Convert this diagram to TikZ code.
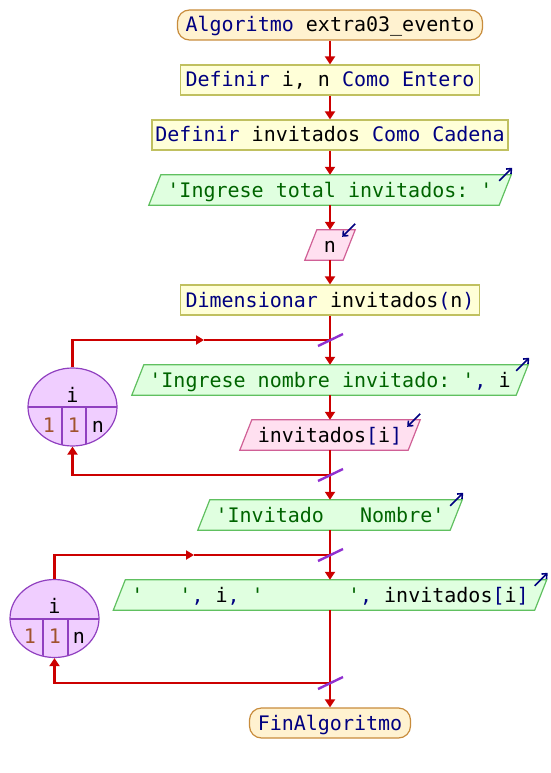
\documentclass[tikz,border=0pt]{standalone}
\usepackage{fontspec}
\newfontfamily\pmono{DejaVu Sans Mono}
\usetikzlibrary{shapes.geometric,arrows.meta,calc}
\definecolor{kwc}{RGB}{0,0,128}
\definecolor{strc}{RGB}{0,100,0}
\definecolor{numc}{RGB}{160,82,45}
\definecolor{flowc}{RGB}{204,0,0}
\definecolor{slashc}{RGB}{144,48,208}
\definecolor{termfill}{RGB}{255,242,208}
\definecolor{termdraw}{RGB}{200,140,60}
\definecolor{procfill}{RGB}{255,255,216}
\definecolor{procdraw}{RGB}{192,192,96}
\definecolor{outfill}{RGB}{224,255,224}
\definecolor{outdraw}{RGB}{96,192,96}
\definecolor{infill}{RGB}{255,224,240}
\definecolor{indraw}{RGB}{208,96,150}
\definecolor{loopfill}{RGB}{240,206,255}
\definecolor{loopdraw}{RGB}{144,64,192}
\definecolor{iconc}{RGB}{0,0,128}
\newcommand\KW[1]{\textcolor{kwc}{#1}}
\newcommand\ST[1]{\textcolor{strc}{#1}}
\newcommand\NU[1]{\textcolor{numc}{#1}}
\pgfdeclarelayer{bg}\pgfsetlayers{bg,main}
\newcommand\pgshape[2]{%
  \begin{pgfonlayer}{bg}
  \path[#1] ([xshift=-6pt]#2.south west) -- ([xshift=-6pt]#2.south east)
     -- ([xshift=6pt]#2.north east) -- ([xshift=6pt]#2.north west) -- cycle;
  \end{pgfonlayer}}
\tikzset{
  txt/.style={inner sep=0pt, text height=16pt, text depth=2pt, minimum height=30pt},
  term/.style={txt, draw=termdraw, fill=termfill, line width=1.2pt, rounded corners=12pt},
  proc/.style={txt, draw=procdraw, fill=procfill, line width=1.2pt},
  pgram/.style={txt},
  outshape/.style={draw=outdraw, fill=outfill, line width=1.2pt},
  inshape/.style={draw=indraw, fill=infill, line width=1.2pt},
  flowline/.style={draw=flowc, line width=2.4pt},
  flowarrow/.style={flowline, -{Triangle[length=8pt,width=10pt]}},
  midarrow/.style={flowline, -{Triangle[length=8pt,width=9pt]}},
  slashline/.style={draw=slashc, line width=2.4pt},
  icon/.style={draw=iconc, line width=1.6pt, -{Straight Barb[length=4pt,width=7pt]}},
  loopnode/.style={ellipse, draw=loopdraw, fill=loopfill, line width=1.2pt, inner sep=0pt, minimum width=89pt, minimum height=78pt},
  looplab/.style={anchor=base, inner sep=0pt},
  divider/.style={draw=loopdraw, line width=1.2pt}
}
\begin{document}
\begin{tikzpicture}[x=1pt,y=-1pt,font=\pmono\fontsize{20}{24}\selectfont\frenchspacing]
\begin{pgfonlayer}{bg}
\fill[white] (0,0) rectangle (550,773);
\end{pgfonlayer}
\useasboundingbox (0,0) rectangle (550,773);

% nodes
\node[term, minimum width=305pt] (start) at (330,25) {\KW{Algoritmo} extra03\_evento};
\node[proc, minimum width=299pt] (b1) at (330,80) {\KW{Definir} i, n \KW{Como Entero}};
\node[proc, minimum width=356pt] (b2) at (330,135) {\KW{Definir} invitados \KW{Como Cadena}};
\node[pgram, minimum width=350pt] (o1) at (330,190) {\ST{'Ingrese total invitados: '}};
\pgshape{outshape}{o1}
\node[pgram, minimum width=38pt] (i1) at (330,245) {n};
\pgshape{inshape}{i1}
\node[proc, minimum width=299pt] (dim) at (330,300) {\KW{Dimensionar} invitados\KW{(}n\KW{)}};
\node[pgram, minimum width=384pt] (o2) at (330,380) {\ST{'Ingrese nombre invitado: '}\KW{,} i};
\pgshape{outshape}{o2}
\node[pgram, minimum width=168pt] (i2) at (330,435) {invitados\KW{[}i\KW{]}};
\pgshape{inshape}{i2}
\node[pgram, minimum width=252pt] (o3) at (330,515) {\ST{'Invitado\ \ \ Nombre'}};
\pgshape{outshape}{o3}
\node[pgram, minimum width=421pt] (o4) at (330,595) {\ST{'\ \ \ '}\KW{,} i\KW{,} \ST{'\ \ \ \ \ \ \ '}\KW{,} invitados\KW{[}i\KW{]}};
\pgshape{outshape}{o4}
\node[term, minimum width=161pt] (fin) at (330,723) {\KW{FinAlgoritmo}};

% icons
\draw[icon] ([xshift=-6pt,yshift=-6pt]o1.north east) -- ([xshift=7pt,yshift=7pt]o1.north east);
\draw[icon] ([xshift=-6pt,yshift=-6pt]o2.north east) -- ([xshift=7pt,yshift=7pt]o2.north east);
\draw[icon] ([xshift=-6pt,yshift=-6pt]o3.north east) -- ([xshift=7pt,yshift=7pt]o3.north east);
\draw[icon] ([xshift=-6pt,yshift=-6pt]o4.north east) -- ([xshift=7pt,yshift=7pt]o4.north east);
\draw[icon] ([xshift=6pt,yshift=6pt]i1.north east) -- ([xshift=-7pt,yshift=-7pt]i1.north east);
\draw[icon] ([xshift=6pt,yshift=6pt]i2.north east) -- ([xshift=-7pt,yshift=-7pt]i2.north east);

% loop 1
\node[loopnode] (l1) at (72.5,407) {};
\begin{scope}
\clip (72.5,407) ellipse [x radius=44.5pt, y radius=39pt];
\draw[divider] (20,407) -- (125,407) (62,407) -- (62,455) (86,407) -- (86,455);
\end{scope}
\node[looplab] (l1v) at (72.5,402) {i};
\node[looplab] (l1a) at (49,432) {\NU{1}};
\node[looplab] (l1b) at (74,432) {\NU{1}};
\node[looplab] (l1c) at (98,432) {n};

% loop 2
\node[loopnode] (l2) at (54.5,618.5) {};
\begin{scope}
\clip (54.5,618.5) ellipse [x radius=44.5pt, y radius=38.5pt];
\draw[divider] (5,619) -- (105,619) (43,619) -- (43,665) (68,619) -- (68,665);
\end{scope}
\node[looplab] (l2v) at (54.5,613) {i};
\node[looplab] (l2a) at (30,643) {\NU{1}};
\node[looplab] (l2b) at (55,643) {\NU{1}};
\node[looplab] (l2c) at (79,643) {n};

% junctions
\coordinate (j1) at (330,340);
\coordinate (j2) at (330,475);
\coordinate (j3) at (330,555);
\coordinate (j4) at (330,683);
\coordinate (m1) at (204,340);
\coordinate (m2) at (194,555);

% connectors
\draw[flowarrow] (start.south) -- (b1.north);
\draw[flowarrow] (b1.south) -- (b2.north);
\draw[flowarrow] (b2.south) -- (o1.north);
\draw[flowarrow] (o1.south) -- (i1.north);
\draw[flowarrow] (i1.south) -- (dim.north);
\draw[flowarrow] (dim.south) -- (o2.north);
\draw[flowarrow] (o2.south) -- (i2.north);
\draw[flowarrow] (i2.south) -- (o3.north);
\draw[flowarrow] (o3.south) -- (o4.north);
\draw[flowarrow] (o4.south) -- (fin.north);

\draw[midarrow] (l1.north) |- (m1);
\draw[flowline] (m1) -- (j1);
\draw[flowarrow] (j2) -| (l1.south);
\draw[midarrow] (l2.north) |- (m2);
\draw[flowline] (m2) -- (j3);
\draw[flowarrow] (j4) -| (l2.south);

% slashes
\foreach \j in {j1,j2,j3,j4}{
  \draw[slashline] ([xshift=-12pt,yshift=-6pt]\j) -- ([xshift=13pt,yshift=6pt]\j);
}
\end{tikzpicture}
\end{document}
